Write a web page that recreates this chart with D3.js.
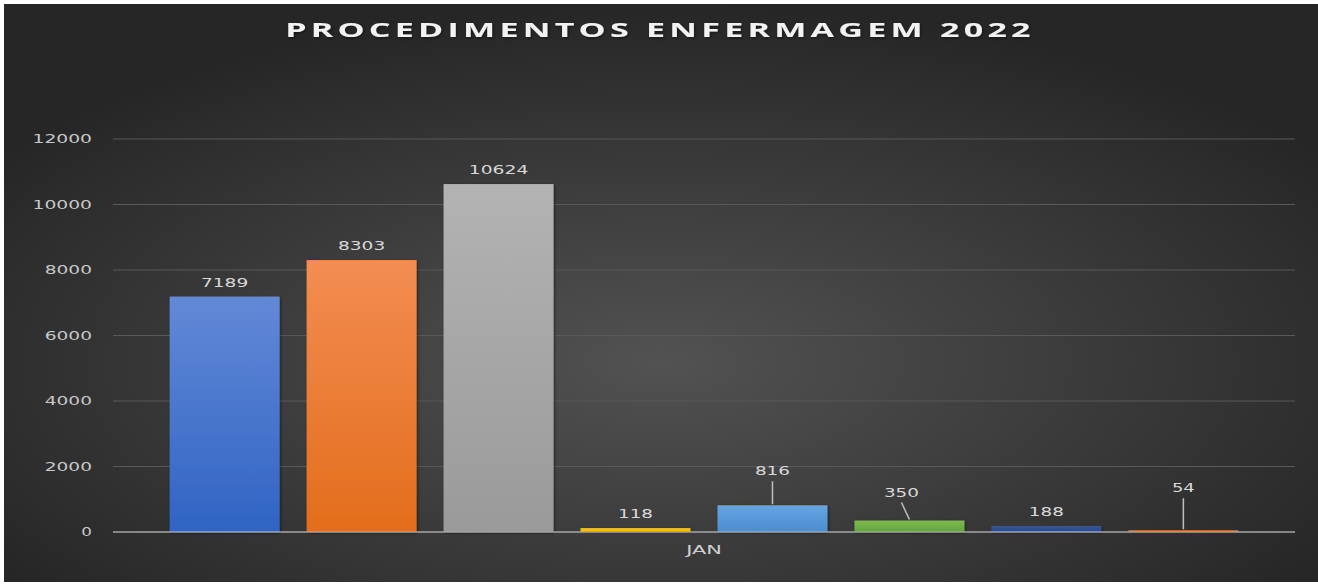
<!DOCTYPE html>
<html lang="pt">
<head>
<meta charset="utf-8">
<title>Procedimentos Enfermagem 2022</title>
<script src="https://d3js.org/d3.v7.min.js"></script>
<style>
  html, body { margin: 0; padding: 0; background: #fff; }
  svg { display: block; }
  .tick text { font-family: 'DejaVu Sans', sans-serif; }
</style>
</head>
<body>
<svg id="chart" width="1318" height="585"></svg>
<script>
// ---- data ----
var categories = ["JAN"];
var seriesNames = ["S1", "S2", "S3", "S4", "S5", "S6", "S7", "S8"];
var seriesValues = [7189, 8303, 10624, 118, 816, 350, 188, 54];
var yTicks = [0, 2000, 4000, 6000, 8000, 10000, 12000];
var titleText = "PROCEDIMENTOS ENFERMAGEM 2022";

// bar colours (top, bottom of the gradient)
var barColors = [
  ["#6289d6", "#3064c4"],
  ["#f38d52", "#e36d1c"],
  ["#b3b3b3", "#9a9a9a"],
  ["#ffc61a", "#f0b400"],
  ["#65a5e0", "#4c8dd0"],
  ["#7dbb4f", "#62a33c"],
  ["#34569f", "#28498f"],
  ["#e07a35", "#c9621f"]
];
// label nudges for leader-line labels: [dx, lift in px]
var labelNudge = [null, null, null, null, [0, 30], [-8, 24], null, [0, 38]];

// the chart font is a wide one: stretch digits to about 12px each
function wide(sel, per) {
  sel.attr("textLength", function() { return this.textContent.length * per - 1.5; })
     .attr("lengthAdjust", "spacingAndGlyphs");
}

var svg = d3.select("#chart"),
    width = +svg.attr("width"),
    height = +svg.attr("height");

var defs = svg.append("defs");
var bg = defs.append("radialGradient").attr("id", "bg")
    .attr("cx", "50%").attr("cy", "62%").attr("r", "62%");
bg.append("stop").attr("offset", "0%").attr("stop-color", "#525252");
bg.append("stop").attr("offset", "100%").attr("stop-color", "#262626");

barColors.forEach(function(c, i) {
  var g = defs.append("linearGradient").attr("id", "bar" + i)
      .attr("x1", 0).attr("y1", 0).attr("x2", 0).attr("y2", 1);
  g.append("stop").attr("offset", "0%").attr("stop-color", c[0]);
  g.append("stop").attr("offset", "100%").attr("stop-color", c[1]);
});

var shadow = defs.append("filter").attr("id", "shadow")
    .attr("x", "-10%").attr("y", "-10%").attr("width", "130%").attr("height", "130%");
shadow.append("feDropShadow").attr("dx", 1).attr("dy", 1)
    .attr("stdDeviation", 1.5).attr("flood-color", "#000").attr("flood-opacity", 0.5);

svg.append("rect")
    .attr("x", 4).attr("y", 4)
    .attr("width", width - 4).attr("height", height - 7)
    .attr("fill", "url(#bg)");

var margin = {left: 113, right: 23, top: 139, bottom: 53};
var plotW = width - margin.left - margin.right,
    plotH = height - margin.top - margin.bottom;

var x0 = d3.scaleBand().domain(categories)
    .range([margin.left, margin.left + plotW])
    .paddingOuter(0.053).paddingInner(0);

var x1 = d3.scaleBand().domain(seriesNames)
    .range([0, x0.bandwidth()])
    .paddingInner(0.197).paddingOuter(0);

var y = d3.scaleLinear().domain([0, 12000])
    .range([margin.top + plotH, margin.top]);

// gridlines
svg.append("g").selectAll("line")
  .data(yTicks.filter(function(d) { return d > 0; }))
  .enter().append("line")
    .attr("x1", margin.left).attr("x2", margin.left + plotW)
    .attr("y1", function(d) { return y(d); })
    .attr("y2", function(d) { return y(d); })
    .attr("stroke", "#595959").attr("stroke-width", 1);

// y axis labels
var yAxis = d3.axisLeft(y).tickValues(yTicks).tickSize(0).tickPadding(0)
    .tickFormat(d3.format("d"));
var yg = svg.append("g").attr("transform", "translate(92,0)").call(yAxis);
yg.select(".domain").remove();
yg.selectAll("text")
    .attr("fill", "#c8c8c8")
    .style("font-size", "11.5px")
    .call(wide, 12.2);

// bars
var group = svg.append("g").selectAll("g")
  .data(categories).enter().append("g")
    .attr("transform", function(d) { return "translate(" + x0(d) + ",0)"; });

function rows() {
  return seriesNames.map(function(s, i) { return {key: s, i: i, value: seriesValues[i]}; });
}

group.selectAll("rect")
  .data(rows)
  .enter().append("rect")
    .attr("x", function(d) { return x1(d.key); })
    .attr("y", function(d) { return y(d.value); })
    .attr("width", x1.bandwidth())
    .attr("height", function(d) { return y(0) - y(d.value); })
    .attr("fill", function(d) { return "url(#bar" + d.i + ")"; })
    .attr("filter", "url(#shadow)");

// zero line
svg.append("line")
    .attr("x1", margin.left).attr("x2", margin.left + plotW)
    .attr("y1", y(0)).attr("y2", y(0))
    .attr("stroke", "#a6a6a6").attr("stroke-width", 1.5);

// data labels
var lbl = group.selectAll(".lbl")
  .data(rows)
  .enter().append("g").attr("class", "lbl");

lbl.each(function(d) {
  var g = d3.select(this);
  var cx = x1(d.key) + x1.bandwidth() / 2;
  var top = y(d.value);
  var n = labelNudge[d.i];
  var tx = cx, ty = top - 10;
  if (n) {
    tx = cx + n[0];
    ty = top - n[1];
    g.append("line")
        .attr("x1", tx).attr("y1", ty + 6)
        .attr("x2", cx).attr("y2", top - 1)
        .attr("stroke", "#bfbfbf").attr("stroke-width", 1.5);
  }
  g.append("text")
      .attr("x", tx).attr("y", ty)
      .attr("text-anchor", "middle")
      .attr("fill", "#d9d9d9")
      .style("font-family", "'DejaVu Sans', sans-serif")
      .style("font-size", "11.5px")
      .text(d.value)
      .call(wide, 12.2);
});

// category label
svg.append("g").selectAll("text")
  .data(categories).enter().append("text")
    .attr("x", function(d) { return x0(d) + x0.bandwidth() / 2; })
    .attr("y", y(0) + 22)
    .attr("text-anchor", "middle")
    .attr("fill", "#d0d0d0")
    .style("font-family", "'DejaVu Sans', sans-serif")
    .style("font-size", "11.5px")
    .text(function(d) { return d; })
    .call(wide, 12.4);

// title: wide letters, stretched horizontally to ~750px
var titleG = svg.append("g").attr("filter", "url(#shadow)");
var title = titleG.append("text")
    .attr("x", 0)
    .attr("y", 0)
    .attr("text-anchor", "middle")
    .attr("fill", "#f2f2f2")
    .style("font-family", "'Open Sans', sans-serif")
    .style("font-weight", "700")
    .style("font-size", "20px")
    .style("letter-spacing", "2.5px")
    .text(titleText);
var tw = title.node().getComputedTextLength();
title.attr("transform", "translate(" + (width / 2 + 1) + ",37) scale(" + (750 / tw) + ",1)");
</script>
</body>
</html>
